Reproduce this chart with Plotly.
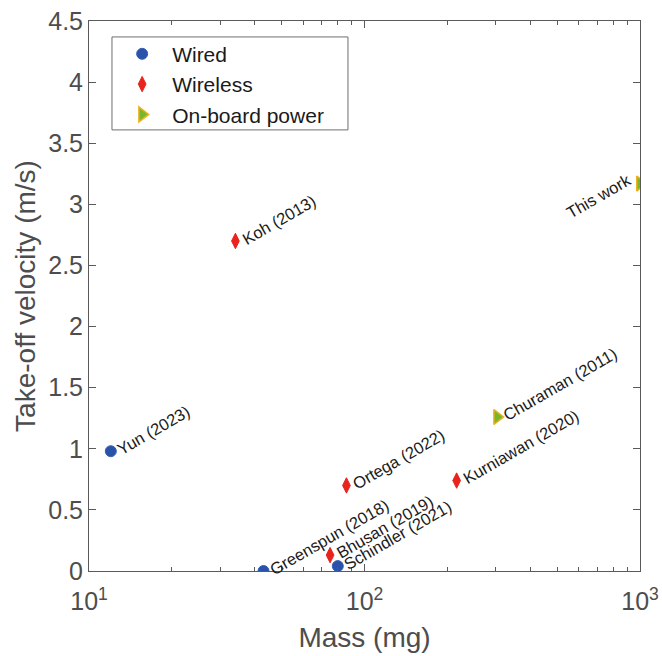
import math
import plotly.graph_objects as go

# ---- data (mass in mg, take-off velocity in m/s) ----
wired_names = ["Yun (2023)", "Greenspun (2018)", "Schindler (2021)"]
wired_mass = [12.0, 43.0, 80.0]
wired_vel = [0.98, 0.0, 0.04]

wireless_names = ["Koh (2013)", "Bhusan (2019)", "Ortega (2022)", "Kurniawan (2020)"]
wireless_mass = [34.0, 75.0, 86.0, 216.0]
wireless_vel = [2.70, 0.13, 0.70, 0.74]

onboard_names = ["Churaman (2011)", "This work"]
onboard_mass = [303.0, 1000.0]
onboard_vel = [1.26, 3.17]

y_ticks = [0, 0.5, 1, 1.5, 2, 2.5, 3, 3.5, 4, 4.5]
y_ticklabels = ["0", "0.5", "1", "1.5", "2", "2.5", "3", "3.5", "4", "4.5"]
x_ticks = [10, 100, 1000]
x_ticklabels = ["10<sup>1</sup>", "10<sup>2</sup>", "10<sup>3</sup>"]
x_minor = [20, 30, 40, 50, 60, 70, 80, 90, 200, 300, 400, 500, 600, 700, 800, 900]

FONT = "Liberation Sans, Arial, Helvetica, sans-serif"
AX = "#4d4d4d"
LINE = "#5a5a5a"

fig = go.Figure()
fig.add_trace(go.Scatter(
    x=wired_mass, y=wired_vel, mode="markers", name="Wired",
    marker=dict(symbol="circle", size=11, color="#2a52a8",
                line=dict(color="#3460b8", width=1))))
fig.add_trace(go.Scatter(
    x=wireless_mass, y=wireless_vel, mode="markers", name="Wireless",
    marker=dict(symbol="diamond-tall", size=11, color="#e8241c",
                line=dict(color="#e8241c", width=1))))
fig.add_trace(go.Scatter(
    x=onboard_mass, y=onboard_vel, mode="markers", name="On-board power",
    marker=dict(symbol="triangle-right", size=13, color="#77b82a",
                line=dict(color="#edb120", width=1.5))))

ANG = -30
FS = 16.5
H = FS * 1.35
annots = []
left_names = wired_names + wireless_names + onboard_names[:1]
left_x = wired_mass + wireless_mass + onboard_mass[:1]
left_y = wired_vel + wireless_vel + onboard_vel[:1]
for n, x, y in zip(left_names, left_x, left_y):
    annots.append(dict(
        x=math.log10(x), y=y, xref="x", yref="y", text=n, showarrow=False,
        textangle=ANG, xanchor="left", yanchor="bottom",
        xshift=-0.25 * H + 6, yshift=-0.433 * H,
        font=dict(family=FONT, size=FS, color="#1a1a1a")))
for n, x, y in zip(onboard_names[1:], onboard_mass[1:], onboard_vel[1:]):
    annots.append(dict(
        x=math.log10(x), y=y, xref="x", yref="y", text=n, showarrow=False,
        textangle=ANG, xanchor="right", yanchor="top",
        xshift=0.25 * H - 9, yshift=0.433 * H + 6,
        font=dict(family=FONT, size=FS, color="#1a1a1a")))

fig.update_layout(
    width=662, height=656,
    margin=dict(l=89, r=22, t=21, b=85),
    paper_bgcolor="white", plot_bgcolor="white",
    font=dict(family=FONT, color=AX),
    annotations=annots,
    shapes=[dict(type="rect", xref="paper", yref="paper",
                 x0=0.0417, x1=0.470, y0=0.802, y1=0.971,
                 line=dict(color="#6e6e6e", width=1), fillcolor="white",
                 layer="below")],
    showlegend=True,
    legend=dict(x=0.042, y=0.977, xanchor="left", yanchor="top",
                bgcolor="rgba(0,0,0,0)", borderwidth=0,
                font=dict(family=FONT, size=21, color="#1a1a1a"),
                itemwidth=50, tracegroupgap=0),
    xaxis=dict(type="log", range=[1, 3], tickvals=x_ticks, ticktext=x_ticklabels,
               automargin=False, ticklabelstandoff=8,
               ticks="inside", ticklen=7, tickwidth=1, tickcolor=LINE,
               showline=True, linecolor=LINE, linewidth=1, mirror="allticks",
               showgrid=False, zeroline=False,
               tickfont=dict(family=FONT, size=25, color=AX),
               minor=dict(tickvals=x_minor, ticks="inside", ticklen=4,
                          tickwidth=1, tickcolor=LINE, showgrid=False),
               title=dict(text="Mass (mg)", font=dict(family=FONT, size=28, color=AX),
                          standoff=13)),
    yaxis=dict(range=[0, 4.5], tickvals=y_ticks, ticktext=y_ticklabels,
               automargin=False,
               ticks="inside", ticklen=7, tickwidth=1, tickcolor=LINE,
               showline=True, linecolor=LINE, linewidth=1, mirror="allticks",
               showgrid=False, zeroline=False,
               tickfont=dict(family=FONT, size=25, color=AX),
               title=dict(text="Take-off velocity (m/s)",
                          font=dict(family=FONT, size=28, color=AX), standoff=4)),
)

fig.write_html("out.html", config={"displayModeBar": False},
               post_script="document.body.style.margin='0';")
